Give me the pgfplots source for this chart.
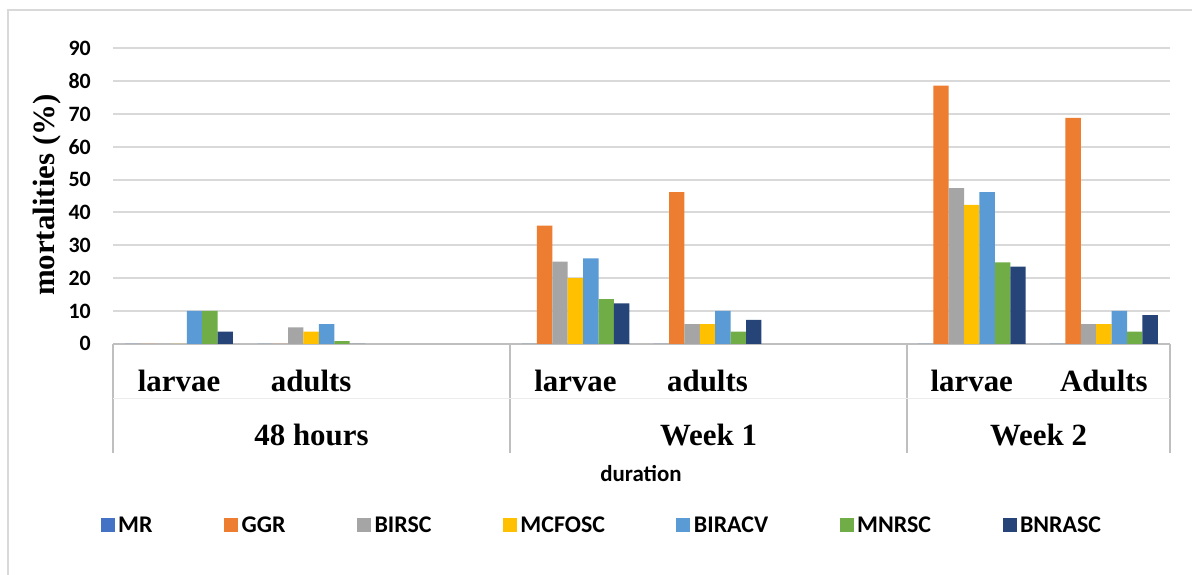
\documentclass[border=0pt]{standalone}
\usepackage{pgfplots}
\usepackage{pgfplotstable}
\pgfplotsset{compat=1.18}
\usepackage{fontspec}
\setmainfont{Liberation Serif}
\newfontfamily\calfont{Carlito}

\definecolor{cMR}{HTML}{4472C4}
\definecolor{cGGR}{HTML}{ED7D31}
\definecolor{cBIRSC}{HTML}{A5A5A5}
\definecolor{cMCFOSC}{HTML}{FFC000}
\definecolor{cBIRACV}{HTML}{5B9BD5}
\definecolor{cMNRSC}{HTML}{70AD47}
\definecolor{cBNRASC}{HTML}{264478}
\definecolor{gridc}{HTML}{D9D9D9}
\definecolor{axisc}{HTML}{BFBFBF}

\pgfplotstableread{
x MR GGR BIRSC MCFOSC BIRACV MNRSC BNRASC
0 0 0    0    0    10   10   3.7
1 0 0    5    3.7  6    0.8  0
3 0 36   25   20   26   13.6 12.3
4 0 46.2 6    6    10   3.7  7.3
6 0 78.6 47.4 42.3 46.2 24.8 23.5
7 0 68.8 6    6    10   3.7  8.7
}\datatable

\begin{document}
\begin{tikzpicture}
\useasboundingbox (0,0) rectangle (1192bp,575bp);
\fill[white] (0,0) rectangle (1192bp,575bp);
\draw[gridc, line width=1.5bp] (8bp,-10bp) -- (8bp,565bp) -- (1210bp,565bp);
\begin{axis}[
  scale only axis, width=1057bp, height=295.5bp,
  at={(113bp,231.2bp)}, anchor=south west,
  xmin=-0.5, xmax=7.5, ymin=0, ymax=90,
  axis x line*=bottom, axis y line*=left,
  x axis line style={draw=axisc, line width=2.5bp},
  y axis line style={draw=none},
  ytick={0,10,...,90},
  xtick={0,1,3,4,6,7},
  xticklabels={larvae,adults,larvae,adults,larvae,Adults},
  major tick length=0pt,
  ymajorgrids, grid style={draw=gridc, line width=2bp},
  /pgf/number format/assume math mode=true,
  yticklabel style={font=\calfont\bfseries\fontsize{22}{24}\selectfont, anchor=east, inner sep=0pt, xshift=-22bp},
  xticklabel style={font=\bfseries\fontsize{31}{33}\selectfont, anchor=base, yshift=-47.2bp},
  ylabel={mortalities (\%)},
  ylabel style={font=\bfseries\fontsize{31}{33}\selectfont, at={(axis description cs:-0.0624,0.503)}, anchor=center},
  ybar=0pt, bar width=15.4bp,
  mybar/.style={fill=#1, draw=none},
  legend columns=7,
  legend image code/.code={\fill[#1] (0bp,-7bp) rectangle (14bp,7bp);},
  legend style={at={(axis description cs:-0.0118,-0.6132)}, anchor=west, draw=none, fill=none,
    inner sep=0pt, nodes={inner sep=3.5bp},
    font=\calfont\bfseries\fontsize{24}{26}\selectfont,
    /tikz/every even column/.append style={column sep=68bp}},
]
\addplot[mybar=cMR] table[x=x,y=MR]{\datatable};
\addplot[mybar=cGGR] table[x=x,y=GGR]{\datatable};
\addplot[mybar=cBIRSC] table[x=x,y=BIRSC]{\datatable};
\addplot[mybar=cMCFOSC] table[x=x,y=MCFOSC]{\datatable};
\addplot[mybar=cBIRACV] table[x=x,y=BIRACV]{\datatable};
\addplot[mybar=cMNRSC] table[x=x,y=MNRSC]{\datatable};
\addplot[mybar=cBNRASC] table[x=x,y=BNRASC]{\datatable};
\legend{MR,GGR,BIRSC,MCFOSC,BIRACV,MNRSC,BNRASC}
\end{axis}
\foreach \xx in {113,510,907,1170} {
  \draw[axisc, line width=2.7bp] (\xx bp,231.2bp) -- (\xx bp,122bp);
}
\draw[gridc!50, line width=1bp] (113bp,176bp) -- (1170bp,176bp);
\node[font=\bfseries\fontsize{31}{33}\selectfont, anchor=base] at (311.5bp,129.3bp) {48 hours};
\node[font=\bfseries\fontsize{31}{33}\selectfont, anchor=base] at (708.5bp,129.3bp) {Week 1};
\node[font=\bfseries\fontsize{31}{33}\selectfont, anchor=base] at (1038.5bp,129.3bp) {Week 2};
\node[font=\calfont\bfseries\fontsize{23}{25}\selectfont, anchor=base] at (641bp,93.3bp) {duration};
\end{tikzpicture}
\end{document}
